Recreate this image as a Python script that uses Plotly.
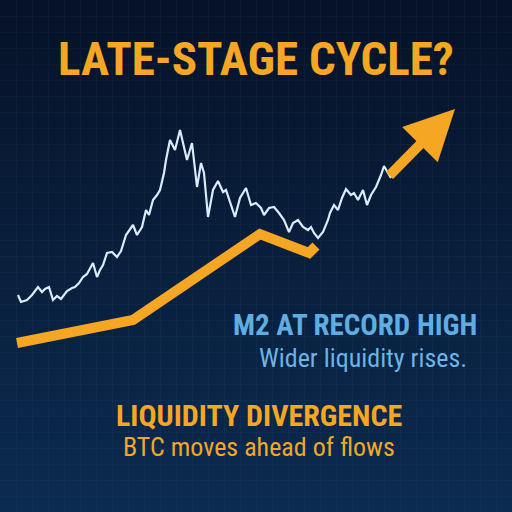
import plotly.graph_objects as go

# ---- data (y = level, 0 at bottom, 512 at top) ----
btc_x = [18, 21, 27, 32, 38, 42, 45, 49, 53, 57, 61, 67, 72, 75, 79, 83, 87, 93, 97, 100,
         103, 107, 112, 117, 121, 126, 133, 137, 142, 146, 149, 153, 157, 160, 164, 166, 170,
         175, 180, 187, 192, 197, 201, 204, 208, 213, 218, 223, 226, 230, 235, 240, 246, 251,
         256, 261, 264, 269, 274, 279, 284, 289, 293, 298, 303, 308, 311, 314, 318, 323, 328,
         330, 334, 338, 342, 346, 351, 354, 358, 363, 367, 371, 376, 381, 384, 388, 391]
btc_y = [217, 210, 212, 217, 225, 220, 223, 225, 212, 216, 213, 221, 224, 225, 229, 235,
         238, 249, 235, 242, 247, 259, 260, 255, 261, 277, 287, 277, 285, 302, 297, 312,
         317, 322, 339, 352, 372, 362, 382, 352, 369, 325, 349, 339, 295, 322, 331, 320,
         322, 309, 295, 314, 324, 307, 309, 304, 297, 304, 305, 299, 292, 280, 289, 292,
         285, 282, 285, 279, 274, 280, 292, 299, 307, 302, 314, 323, 317, 319, 312, 322,
         307, 317, 325, 337, 346, 339, 334, 335]

m2_x = [17, 133, 260, 309, 316]
m2_y = [169, 192, 278, 259, 266]

proj_x = [388, 455]     # projected trend arrow
proj_y = [335, 403]

title = "LATE-STAGE CYCLE?"
label_m2 = "M2 AT RECORD HIGH"
sub_m2 = "Wider liquidity rises."
label_div = "LIQUIDITY DIVERGENCE"
sub_div = "BTC moves ahead of flows"

ORANGE = "#F5A623"
BLUE = "#5FAEE3"
FONT = "Roboto Condensed, Roboto, sans-serif"

fig = go.Figure()

# background vertical gradient strips (below gridlines)
top = (6, 18, 40)
bot = (11, 43, 80)
n = 64
shapes = []
for i in range(n):
    t = i / (n - 1)
    c = tuple(round(top[k] + (bot[k] - top[k]) * t) for k in range(3))
    y1 = 512 - i * 512 / n
    y0 = 512 - (i + 1) * 512 / n
    shapes.append(dict(type="rect", xref="x", yref="y", x0=0, x1=512, y0=y0 - 0.5, y1=y1 + 0.5,
                       fillcolor="rgb(%d,%d,%d)" % c, line=dict(width=0), layer="below"))

fig.add_trace(go.Scatter(x=m2_x, y=m2_y, mode="lines",
                         line=dict(color=ORANGE, width=10), hoverinfo="skip"))
fig.add_trace(go.Scatter(x=btc_x, y=btc_y, mode="lines",
                         line=dict(color="#D8ECFA", width=2.2), hoverinfo="skip"))

annotations = [
    dict(x=proj_x[1], y=proj_y[1], ax=proj_x[0], ay=proj_y[0], xref="x", yref="y",
         axref="x", ayref="y", showarrow=True, arrowhead=2, arrowwidth=10, arrowsize=1.0,
         arrowcolor=ORANGE, text=""),
    dict(x=256, y=454, text="<b>%s</b>" % title, showarrow=False,
         font=dict(family=FONT, size=47, color=ORANGE)),
    dict(x=355, y=187, text="<b>%s</b>" % label_m2, showarrow=False,
         font=dict(family=FONT, size=29, color=BLUE)),
    dict(x=363, y=154, text=sub_m2, showarrow=False,
         font=dict(family=FONT, size=26, color="#6CB4E6")),
    dict(x=259, y=97, text="<b>%s</b>" % label_div, showarrow=False,
         font=dict(family=FONT, size=30, color=ORANGE)),
    dict(x=259, y=65, text=sub_div, showarrow=False,
         font=dict(family=FONT, size=26, color="#F0A829")),
]

fig.update_layout(
    width=512, height=512, margin=dict(l=0, r=0, t=0, b=0),
    paper_bgcolor="#081a36", plot_bgcolor="#081a36",
    showlegend=False, shapes=shapes, annotations=annotations,
    xaxis=dict(range=[0, 512], dtick=16, showgrid=True, gridcolor="rgba(120,160,220,0.05)",
               zeroline=False, showticklabels=False, fixedrange=True),
    yaxis=dict(range=[0, 512], dtick=16, showgrid=True, gridcolor="rgba(120,160,220,0.05)",
               zeroline=False, showticklabels=False, fixedrange=True),
)

fig.write_html("out.html", config=dict(displayModeBar=False))
